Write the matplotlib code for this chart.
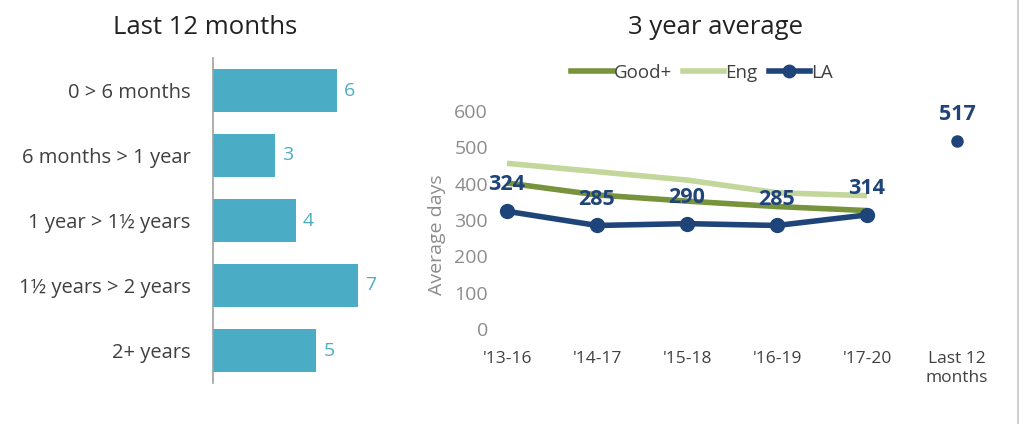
import numpy as np
import matplotlib
matplotlib.use('Agg')
import matplotlib.pyplot as plt
from matplotlib.lines import Line2D

plt.rcParams['font.family'] = ['Open Sans', 'DejaVu Sans']

# left chart: time taken, last 12 months
bar_cats = ['0 > 6 months', '6 months > 1 year', '1 year > 1½ years',
            '1½ years > 2 years', '2+ years']
bar_vals = [6, 3, 4, 7, 5]

# right chart: 3 year averages
periods = ["'13-16", "'14-17", "'15-18", "'16-19", "'17-20"]
good_plus = [402, 369, 352, 337, 326]
eng = [456, 433, 410, 375, 367]
la = [324, 285, 290, 285, 314]
last12_label = 'Last 12\nmonths'
la_last12 = 517

BAR_C = '#4BACC6'
GOOD_C = '#77933C'
ENG_C = '#C3D69B'
LA_C = '#1F4479'
TXT = '#404040'
GREY = '#8C8C8C'

fig = plt.figure(figsize=(10.24, 4.24), dpi=100)

# ---- left: bars
ax1 = fig.add_axes([213/1024, 41/424, 186/1024, 325/424])
y = np.arange(len(bar_cats))
ax1.barh(y, bar_vals, height=0.66, color=BAR_C)
for yi, v in zip(y, bar_vals):
  ax1.text(v + 0.35, yi, str(v), va='center', ha='left', color=BAR_C, fontsize=14)
ax1.set_ylim(4.5, -0.5)
ax1.set_xlim(0, 9)
ax1.set_yticks(y)
ax1.set_yticklabels(bar_cats, fontsize=14.5, color=TXT)
ax1.tick_params(axis='y', length=0, pad=16)
ax1.set_xticks([])
for s in ['top', 'right', 'bottom']:
  ax1.spines[s].set_visible(False)
ax1.spines['left'].set_color('#A0A0A0')
ax1.spines['left'].set_linewidth(1.2)
fig.text(205/1024, 1 - 28/424, 'Last 12 months', ha='center', va='center', fontsize=18.5, color='#222222')

# ---- right: lines
ymax = 620
ax2 = fig.add_axes([493.5/1024, 95/424, 517.5/1024, ymax*0.3633/424])
x = np.arange(len(periods))
ax2.plot(x, eng, color=ENG_C, lw=4, solid_capstyle='butt')
ax2.plot(x, good_plus, color=GOOD_C, lw=4, solid_capstyle='butt')
ax2.plot(x, la, color=LA_C, lw=4, marker='o', ms=10)
ax2.plot([len(periods)], [la_last12], color=LA_C, marker='o', ms=8, ls='none')
for xi, v in zip(list(x) + [len(periods)], la + [la_last12]):
  ax2.annotate(str(v), (xi, v), xytext=(0, 19), textcoords='offset points',
               ha='center', va='center', color=LA_C, fontsize=15.5, fontweight='bold')
ax2.set_xlim(-0.15, len(periods) + 0.6)
ax2.set_ylim(0, ymax)
ax2.set_yticks(range(0, 601, 100))
ax2.tick_params(axis='y', length=0, colors=GREY, labelsize=14, pad=4)
ax2.set_xticks(list(x) + [len(periods)])
ax2.set_xticklabels(periods + [last12_label], fontsize=12.5, color=TXT, va='top')
ax2.tick_params(axis='x', length=0, pad=16)
for s in ax2.spines.values():
  s.set_visible(False)
ax2.set_ylabel('Average days', color=GREY, fontsize=14)
ax2.yaxis.set_label_coords(-0.092, 0.42)

handles = [Line2D([], [], color=GOOD_C, lw=4),
           Line2D([], [], color=ENG_C, lw=4),
           Line2D([], [], color=LA_C, lw=4, marker='o', ms=9)]
fig.legend(handles, ['Good+', 'Eng', 'LA'], loc='center', bbox_to_anchor=(702/1024, 1 - 73/424),
           ncol=3, frameon=False, fontsize=13.5, handlelength=2.2, handletextpad=0.05,
           columnspacing=0.6, labelcolor=TXT)
fig.text(715/1024, 1 - 28/424, '3 year average', ha='center', va='center', fontsize=18.5, color='#222222')

# thin border at right edge
fig.add_artist(Line2D([1018/1024, 1018/1024], [0, 1], color='#D0D0D0', lw=1.5))

fig.savefig('out.png', dpi=100)
